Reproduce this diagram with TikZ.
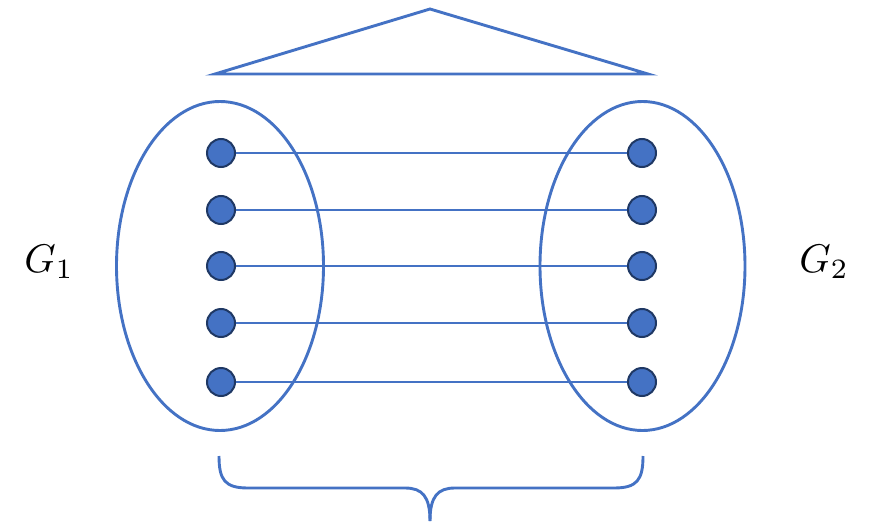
\documentclass[tikz,border=0pt]{standalone}
\usepackage{tikz}
\definecolor{acc}{HTML}{4472C4}
\definecolor{navy}{HTML}{1F3864}
\begin{document}
\begin{tikzpicture}[x=1pt,y=-1pt,
  blue line/.style={draw=acc,line width=2.9pt},
  dot/.style={circle,fill=acc,draw=navy,line width=2pt,minimum size=28pt,inner sep=0pt},
  lbl/.style={scale=4}]
\useasboundingbox (0,0) rectangle (869,524);
% triangle
\coordinate (apex) at (430,9);
\coordinate (bl) at (215,74);
\coordinate (br) at (648,74);
\draw[blue line] (bl) -- (apex) -- (br) -- cycle;
% ellipses
\draw[blue line] (220,266) ellipse [x radius=103.5, y radius=164.5];
\draw[blue line] (642.5,266) ellipse [x radius=102.5, y radius=164.5];
% nodes and edges
\foreach \i/\y in {1/153,2/210,3/266,4/323,5/382}{
  \node[dot] (l\i) at (221,\y) {};
  \node[dot] (r\i) at (642,\y) {};
  \draw[blue line] (l\i) -- (r\i);
}
% brace
\coordinate (b1) at (219,456);
\coordinate (b2) at (643,456);
\coordinate (tip) at (430,521);
\draw[blue line] (b1) .. controls (219,480) and (225,488) .. (248,488)
  -- (405,488) .. controls (422,488) and (430,496) .. (tip);
\draw[blue line] (b2) .. controls (643,480) and (637,488) .. (614,488)
  -- (455,488) .. controls (438,488) and (430,496) .. (tip);
% labels
\node[lbl] (g1) at (49,262) {$G_1$};
\node[lbl] (g2) at (824,262) {$G_2$};
\end{tikzpicture}
\end{document}
